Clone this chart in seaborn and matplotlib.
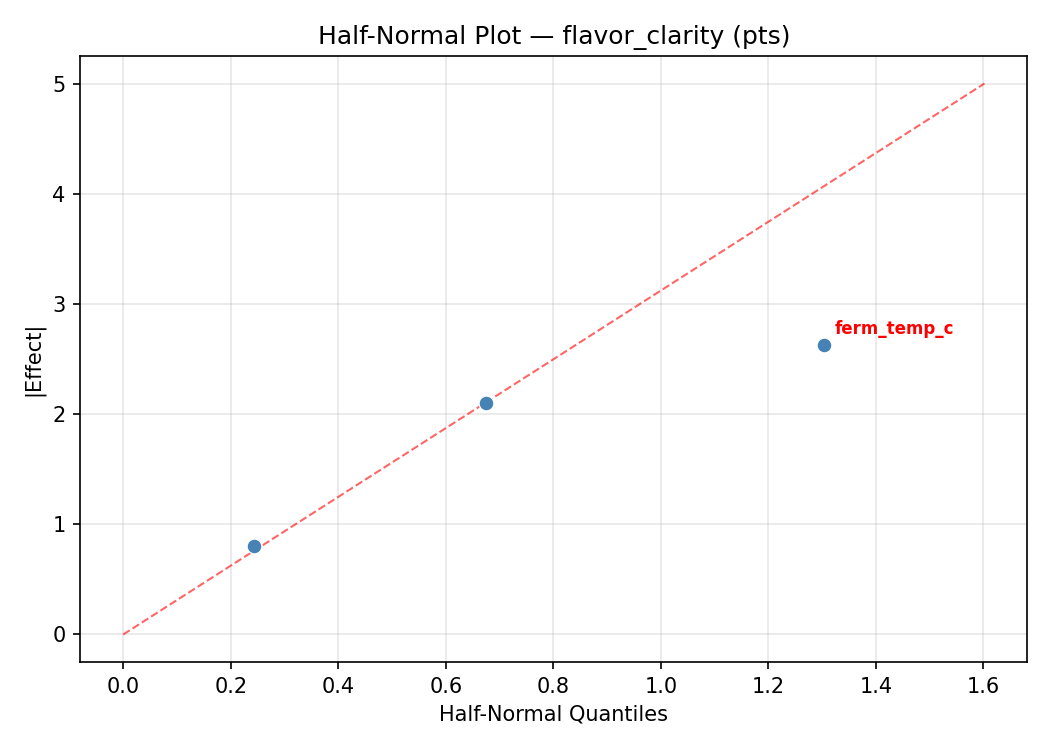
import numpy as np
import pandas as pd
import matplotlib
matplotlib.use('Agg')
import matplotlib.pyplot as plt
import seaborn as sns

# 半正态图数据
factors = ['f1', 'f2', 'ferm_temp_c']
quantiles = [0.243, 0.674, 1.304]
abs_effects = [0.80, 2.10, 2.63]
significant = [False, False, True]

# 参考线端点
ref_x = [0.0, 1.602]
ref_y = [0.0, 5.0]

df = pd.DataFrame({'factor': factors, 'q': quantiles, 'effect': abs_effects, 'sig': significant})
ref_df = pd.DataFrame({'x': ref_x, 'y': ref_y})

fig, ax = plt.subplots(figsize=(7, 5), dpi=150)

sns.scatterplot(data=df, x='q', y='effect', color='steelblue', s=50, zorder=3, ax=ax)
sns.lineplot(data=ref_df, x='x', y='y', color='red', linestyle='--', linewidth=1, alpha=0.6, ax=ax)

for _, row in df[df['sig']].iterrows():
    ax.annotate(row['factor'], (row['q'], row['effect']), xytext=(5, 5),
                textcoords='offset points', fontsize=8, fontweight='bold', color='red')

ax.set_title('Half-Normal Plot — flavor_clarity (pts)')
ax.set_xlabel('Half-Normal Quantiles')
ax.set_ylabel('|Effect|')
ax.grid(True, alpha=0.3)

plt.tight_layout()
plt.subplots_adjust(top=1 - 56 / 750, bottom=1 - 662 / 750)
plt.savefig('out.png', dpi=150)
